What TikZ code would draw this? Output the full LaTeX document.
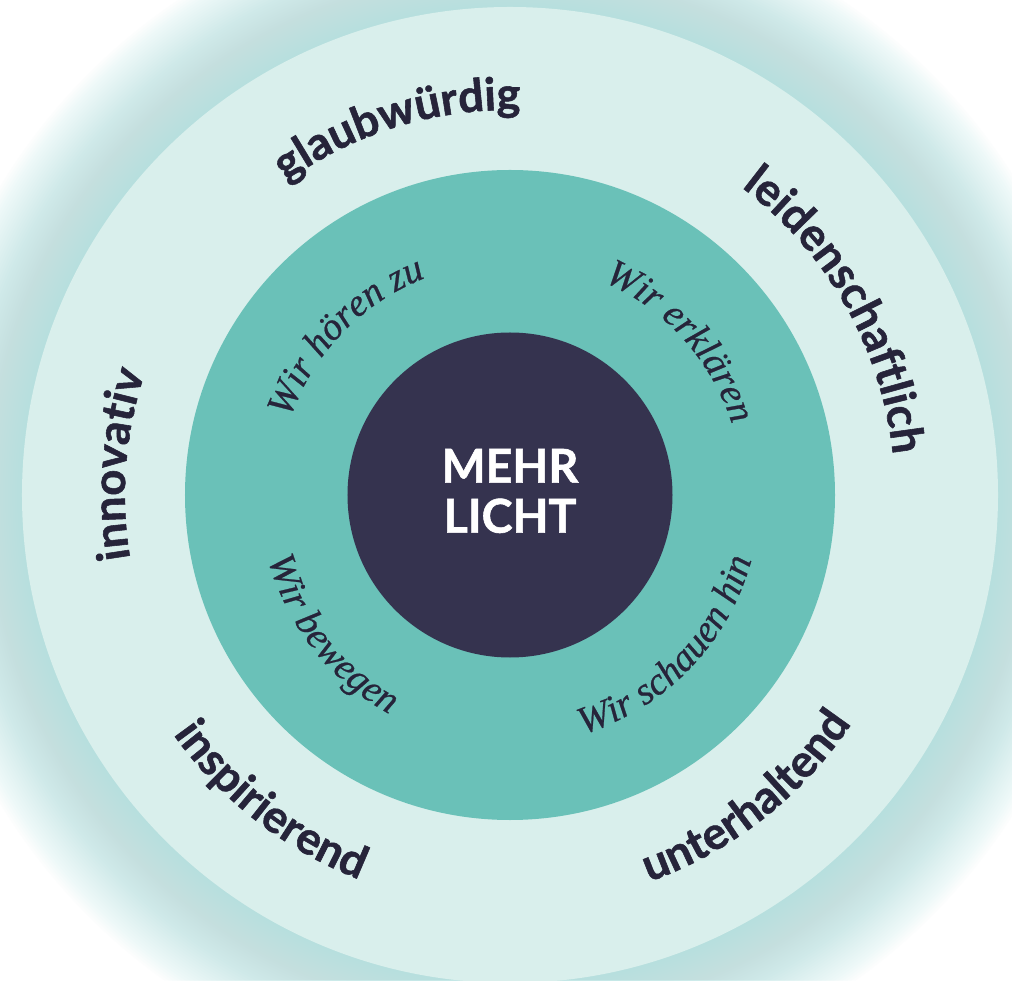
\documentclass[tikz,border=0pt]{standalone}
\usepackage{fontspec}
\setmainfont{Lato}[BoldFeatures={FakeBold=1.2}]
\newfontfamily\claimfamily{Liberation Serif}[ItalicFeatures={FakeBold=0.6}]
\usetikzlibrary{decorations.text}
\definecolor{mint}{RGB}{217,239,236}
\definecolor{lagoon}{RGB}{106,193,184}
\definecolor{night}{RGB}{53,51,79}
\definecolor{ink}{RGB}{38,36,58}
\definecolor{haze}{RGB}{176,223,222}
\newcommand\wordfont{\bfseries\fontsize{34}{34}\selectfont}
\newcommand\claimfont{\claimfamily\itshape\fontsize{29}{29}\selectfont}
\tikzset{wordtext/.style = {decoration={text along path, text align=center,
                                        text color=ink, text={|\wordfont|#1}},
                            decorate},
         claimtext/.style = {decoration={text along path, text align=center,
                                         text color=ink, text={|\claimfont|#1}},
                             decorate},
         core/.style = {align=center, text=white, inner sep=0pt,
                        font=\bfseries\fontsize{35}{37.5}\selectfont}}

\begin{document}
\begin{tikzpicture}[x=0.75pt, y=0.75pt]
      \useasboundingbox (-510, -485) rectangle (502, 495);
      \fill [white] (-510, -485) rectangle (502, 495);
      \foreach \k in {1,...,45}
        \fill [haze, opacity=0.03] (0, 0) circle ({488 + 2.4*\k});
      \fill [mint] (0, 0) circle (488);
      \fill [lagoon] (0, 0) circle (325);
      \fill [night] (0, 0) circle (162.5);
      \node [core] (core) at (0, 4) {MEHR\\LICHT};

      \path [wordtext=glaubwürdig] (187:385) arc [start angle=187, end angle=27, radius=385];
      \path [wordtext=leidenschaftlich] (109.5:385) arc [start angle=109.5, end angle=-50.5, radius=385];
      \path [wordtext=innovativ] (255.5:385) arc [start angle=255.5, end angle=95.5, radius=385];
      \path [wordtext=inspirierend] (152:413) arc [start angle=152, end angle=312, radius=413];
      \path [wordtext=unterhaltend] (228:411) arc [start angle=228, end angle=388, radius=411];

      \path [claimtext=Wir hören zu] (196:233) arc [start angle=196, end angle=76, radius=233];
      \path [claimtext=Wir erklären] (122:233) arc [start angle=122, end angle=-38, radius=233];
      \path [claimtext=Wir bewegen] (148:250) arc [start angle=148, end angle=288, radius=250];
      \path [claimtext=Wir schauen hin] (236:250) arc [start angle=236, end angle=396, radius=250];
    \end{tikzpicture}
\end{document}
